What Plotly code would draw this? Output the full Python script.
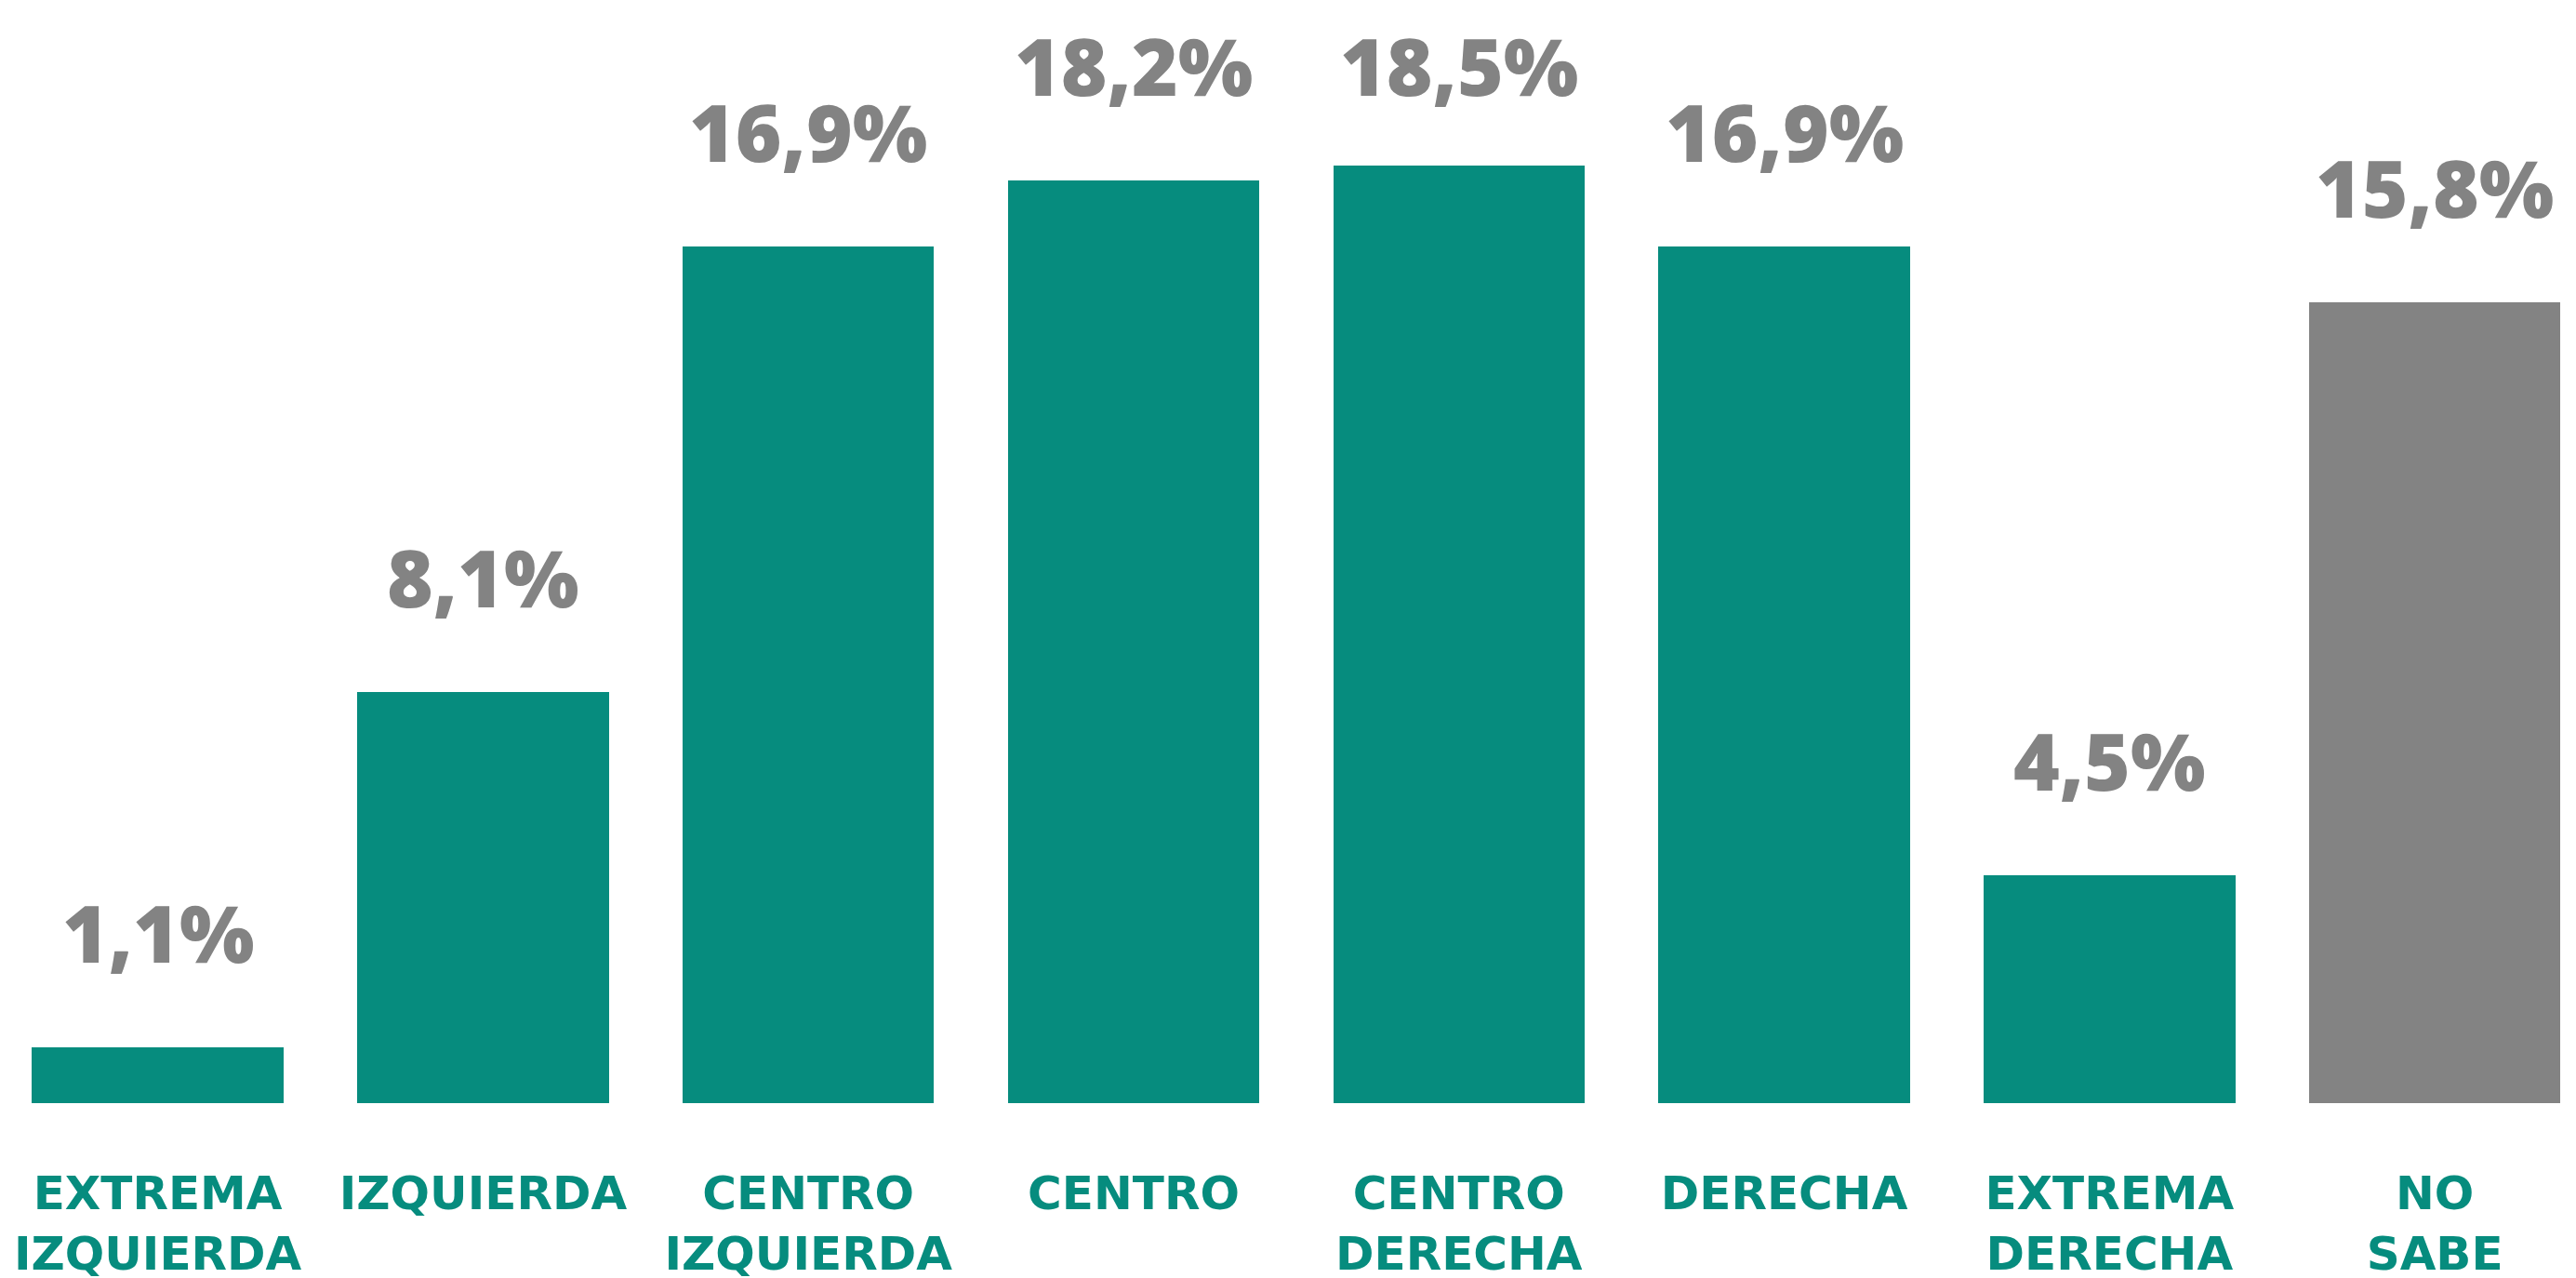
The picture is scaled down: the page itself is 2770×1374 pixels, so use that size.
import plotly.graph_objects as go

categories = ["EXTREMA<br>IZQUIERDA", "IZQUIERDA", "CENTRO<br>IZQUIERDA", "CENTRO",
              "CENTRO<br>DERECHA", "DERECHA", "EXTREMA<br>DERECHA", "NO<br>SABE"]
values = [1.1, 8.1, 16.9, 18.2, 18.5, 16.9, 4.5, 15.8]
value_labels = ["1,1%", "8,1%", "16,9%", "18,2%", "18,5%", "16,9%", "4,5%", "15,8%"]
bar_colors = ["#068C7E"] * 7 + ["#838383"]

TEAL = "#068C7E"
GRAY = "#838383"
LABEL_CAP = 18.2  # keep value labels from running off the top edge

xs = list(range(len(categories)))

fig = go.Figure()
fig.add_trace(go.Bar(
    x=xs, y=values, width=0.773,
    marker=dict(color=bar_colors, line=dict(width=0)),
    hoverinfo="skip",
))

for x, v, t in zip(xs, values, value_labels):
    fig.add_annotation(
        x=x, y=min(v, LABEL_CAP), text=t, showarrow=False, xref="x", yref="y",
        yanchor="bottom", yshift=64,
        font=dict(family="Open Sans", size=85, color=GRAY, weight=800),
    )

fig.update_layout(
    width=2770, height=1374,
    margin=dict(l=0, r=0, t=0, b=196, autoexpand=False),
    paper_bgcolor="white", plot_bgcolor="white",
    showlegend=False,
    bargap=0,
)
fig.update_xaxes(
    range=[-0.462, 7.457], tickmode="array", tickvals=xs, ticktext=categories,
    showgrid=False, zeroline=False, showline=False, automargin=False,
    ticks="outside", ticklen=53, tickcolor="rgba(0,0,0,0)",
    tickfont=dict(family="DejaVu Sans", size=50, color=TEAL, weight="bold"),
    fixedrange=True,
)
fig.update_yaxes(
    range=[0, 21.61], showgrid=False, zeroline=False, showline=False,
    showticklabels=False, fixedrange=True, automargin=False,
)

fig.write_html("out.html", config={"displayModeBar": False})
